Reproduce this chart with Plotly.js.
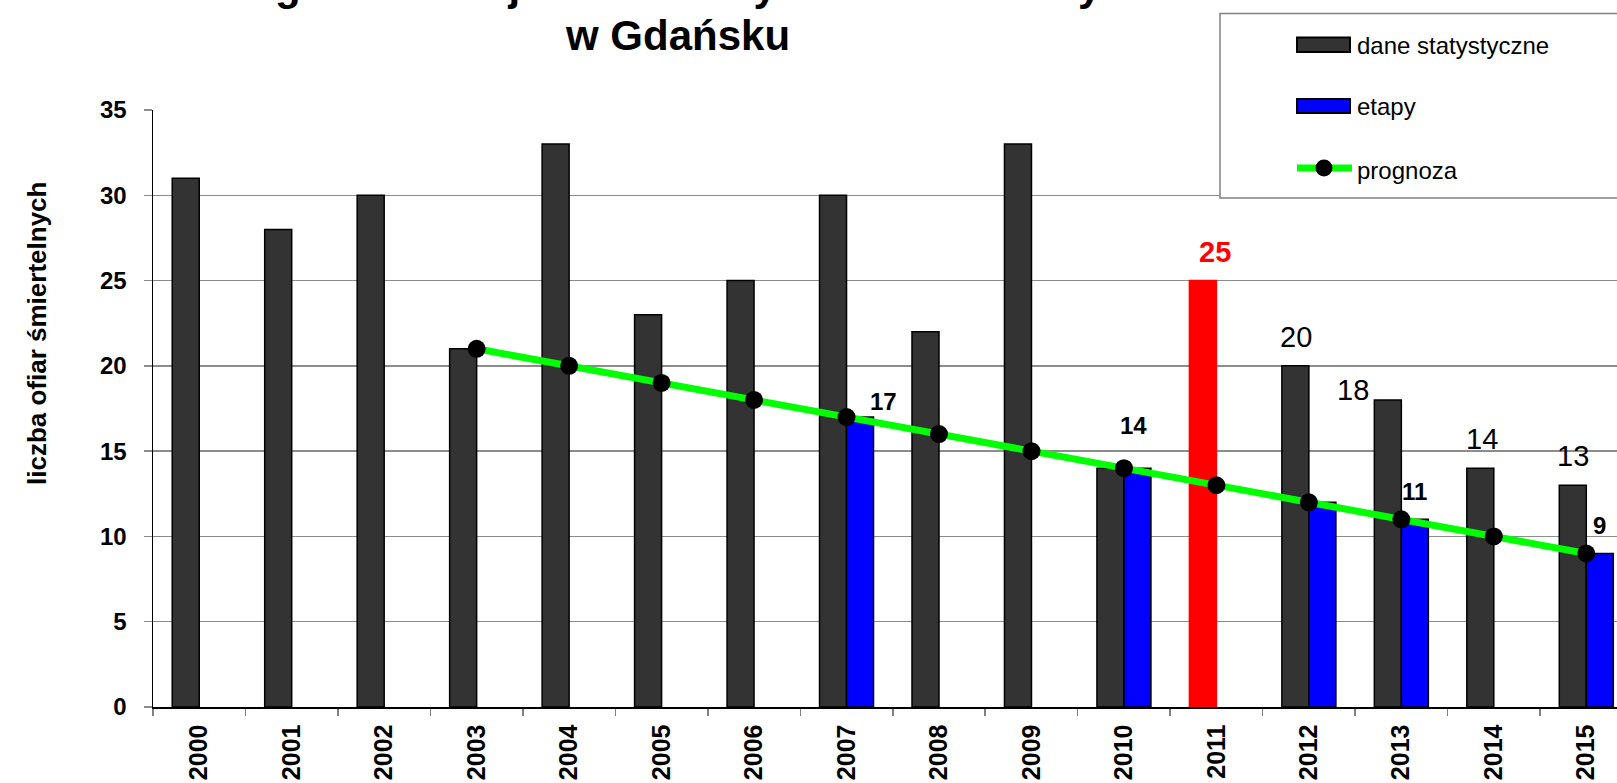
<!DOCTYPE html>
<html>
<head>
<meta charset="utf-8">
<script src="https://cdn.plot.ly/plotly-3.0.1.min.js"></script>
<style>html,body{margin:0;padding:0;background:#fff;}#chart{width:1617px;height:783px;}</style>
</head>
<body>
<div id="chart"></div>
<script>
// ---- data ----
const years = ['2000','2001','2002','2003','2004','2005','2006','2007','2008','2009','2010','2011','2012','2013','2014','2015'];
const dane = [31,28,30,21,33,23,25,30,22,33,14,25,20,18,14,13];
const etapy = [null,null,null,null,null,null,null,17,null,null,14,null,12,11,null,9];
const prognoza = [null,null,null,21,20,19,18,17,16,15,14,13,12,11,10,9];
const highlightYear = '2011';
const seriesNames = ['dane statystyczne','etapy','prognoza'];
const titleLines = ['Program zmniejszenia liczby ofiar śmiertelnych','w Gdańsku'];
const yTitle = 'liczba ofiar śmiertelnych';

// labelled points: which series / year
const labelSeries = ['etapy','etapy','dane','dane','dane','etapy','dane','dane','etapy'];
const labelYears  = ['2007','2010','2011','2012','2013','2013','2014','2015','2015'];

// ---- geometry / style ----
const W = 1617, H = 783, ML = 153, MT = 110, MB = 76;
const plotW = W - ML, plotH = H - MT - MB;
const catW = 92.47;
const FONT = 'Liberation Sans, Arial, sans-serif';
const px2x = p => (p - ML) / plotW;
const py2y = p => (H - MB - p) / plotH;

const labelStyle = {
  'etapy2007': {dx: 37, dy: 16, size: 24, weight: 'bold', color: '#000'},
  'etapy2010': {dx: 9.5, dy: 43, size: 24, weight: 'bold', color: '#000'},
  'dane2011':  {dx: -1, dy: 29, size: 29, weight: 'bold', color: '#FF0000'},
  'dane2012':  {dx: -13, dy: 29, size: 29, weight: 'normal', color: '#000'},
  'dane2013':  {dx: -48, dy: 10, size: 29, weight: 'normal', color: '#000'},
  'etapy2013': {dx: 13.5, dy: 28, size: 24, weight: 'bold', color: '#000'},
  'dane2014':  {dx: -12, dy: 29.5, size: 29, weight: 'normal', color: '#000'},
  'dane2015':  {dx: -13, dy: 29.5, size: 29, weight: 'normal', color: '#000'},
  'etapy2015': {dx: 13, dy: 28, size: 24, weight: 'bold', color: '#000'}
};

const daneColors = years.map(y => y === highlightYear ? '#FF0000' : '#333333');
const daneLine = years.map(y => y === highlightYear ? '#FF0000' : '#000000');

const traces = [
  {type: 'bar', name: seriesNames[0], x: years, y: dane,
   marker: {color: daneColors, line: {color: daneLine, width: 1.5}}, showlegend: false, hoverinfo: 'x+y'},
  {type: 'bar', name: seriesNames[1], x: years, y: etapy,
   marker: {color: '#0000FF', line: {color: '#000000', width: 1.5}}, showlegend: false, hoverinfo: 'x+y'},
  {type: 'scatter', mode: 'lines+markers', name: seriesNames[2], x: years, y: prognoza,
   line: {color: '#00FF00', width: 7}, marker: {color: '#000000', size: 18},
   showlegend: false, hoverinfo: 'x+y', cliponaxis: false}
];

const annotations = [];
// value labels (x given as category index so numeric-looking names are not misread)
labelSeries.forEach((s, i) => {
  const yr = labelYears[i];
  const idx = years.indexOf(yr);
  const v = s === 'dane' ? dane[idx] : etapy[idx];
  const st = labelStyle[s + yr];
  annotations.push({xref: 'x', yref: 'y', x: idx, y: v, text: String(v), showarrow: false,
    xanchor: 'center', yanchor: 'middle', xshift: st.dx, yshift: st.dy,
    font: {family: FONT, size: st.size, weight: st.weight, color: st.color}});
});
// title (two lines, the first one partly above the picture as in the reference)
annotations.push({xref: 'paper', yref: 'paper', x: px2x(677), y: py2y(-15), text: titleLines[0],
  showarrow: false, xanchor: 'center', yanchor: 'middle',
  font: {family: FONT, size: 42, weight: 'bold', color: '#000'}});
annotations.push({xref: 'paper', yref: 'paper', x: px2x(677), y: py2y(35), text: titleLines[1],
  showarrow: false, xanchor: 'center', yanchor: 'middle',
  font: {family: FONT, size: 42, weight: 'bold', color: '#000'}});
// y axis title
annotations.push({xref: 'paper', yref: 'paper', x: px2x(37), y: py2y(334), text: yTitle,
  showarrow: false, textangle: -90, xanchor: 'center', yanchor: 'middle',
  font: {family: FONT, size: 26, weight: 'bold', color: '#000'}});

// legend (drawn box)
const shapes = [];
shapes.push({type: 'rect', xref: 'paper', yref: 'paper', layer: 'above',
  x0: px2x(1220), x1: px2x(1700), y0: py2y(198), y1: py2y(13.5),
  fillcolor: '#FFFFFF', line: {color: '#808080', width: 1.5}});
shapes.push({type: 'rect', xref: 'paper', yref: 'paper', layer: 'above',
  x0: px2x(1297), x1: px2x(1350), y0: py2y(52), y1: py2y(37.5),
  fillcolor: '#333333', line: {color: '#000000', width: 2}});
shapes.push({type: 'rect', xref: 'paper', yref: 'paper', layer: 'above',
  x0: px2x(1297), x1: px2x(1350), y0: py2y(113), y1: py2y(99),
  fillcolor: '#0000FF', line: {color: '#000000', width: 2}});
shapes.push({type: 'line', xref: 'paper', yref: 'paper', layer: 'above',
  x0: px2x(1297), x1: px2x(1352), y0: py2y(168), y1: py2y(168),
  line: {color: '#00FF00', width: 7}});
shapes.push({type: 'circle', xref: 'paper', yref: 'paper', layer: 'above',
  x0: px2x(1315.5), x1: px2x(1332.5), y0: py2y(176.5), y1: py2y(159.5),
  fillcolor: '#000000', line: {color: '#000000', width: 0}});
const legendY = [45, 106, 170];
seriesNames.forEach((n, i) => {
  annotations.push({xref: 'paper', yref: 'paper', x: px2x(1355), y: py2y(legendY[i]), text: n,
    showarrow: false, xanchor: 'left', yanchor: 'middle',
    font: {family: FONT, size: 24, color: '#000'}});
});

const layout = {
  width: W, height: H,
  margin: {l: ML, r: 0, t: MT, b: MB, pad: 0},
  paper_bgcolor: '#FFFFFF', plot_bgcolor: '#FFFFFF',
  barmode: 'group', bargap: 0.416, bargroupgap: 0,
  showlegend: false,
  font: {family: FONT, color: '#000'},
  xaxis: {type: 'category', range: [-0.5, -0.5 + plotW / catW], autorange: false,
    showgrid: false, zeroline: false, showline: true, linecolor: '#000', linewidth: 1.5,
    ticks: 'outside', tickson: 'boundaries', ticklen: 7, tickcolor: '#808080', tickwidth: 1.5,
    tickangle: -90, ticklabelstandoff: 6,
    tickfont: {family: FONT, size: 25, weight: 'bold', color: '#000'}},
  yaxis: {range: [0, 35], autorange: false, dtick: 5, tick0: 0,
    showgrid: true, gridcolor: '#8C8C8C', gridwidth: 1.5, zeroline: false,
    showline: true, linecolor: '#000', linewidth: 1.5,
    ticks: 'outside', ticklen: 8, tickcolor: '#8C8C8C', tickwidth: 1.5, ticklabelstandoff: 12,
    tickfont: {family: FONT, size: 24, weight: 'bold', color: '#000'}},
  annotations: annotations,
  shapes: shapes
};

Plotly.newPlot('chart', traces, layout, {displayModeBar: false, staticPlot: true});
</script>
</body>
</html>
